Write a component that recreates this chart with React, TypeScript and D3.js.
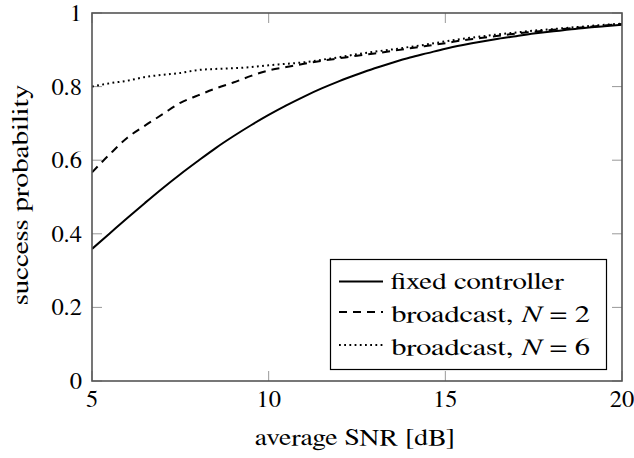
import React from "react";
import * as d3 from "d3";

const snrDb = [5, 5.5, 6, 6.5, 7, 7.5, 8, 8.5, 9, 9.5, 10, 10.5, 11, 11.5, 12, 12.5, 13, 13.5, 14, 14.5, 15, 15.5, 16, 16.5, 17, 17.5, 18, 18.5, 19, 19.5, 20];
const fixedController = [0.359, 0.401, 0.443, 0.484, 0.524, 0.562, 0.598, 0.633, 0.665, 0.695, 0.723, 0.749, 0.773, 0.795, 0.815, 0.833, 0.850, 0.865, 0.879, 0.891, 0.903, 0.913, 0.922, 0.930, 0.937, 0.944, 0.950, 0.955, 0.960, 0.964, 0.968];
const broadcastN2 = [0.567, 0.616, 0.661, 0.694, 0.725, 0.756, 0.776, 0.795, 0.811, 0.829, 0.844, 0.853, 0.862, 0.870, 0.877, 0.884, 0.890, 0.897, 0.904, 0.911, 0.918, 0.926, 0.932, 0.938, 0.944, 0.949, 0.954, 0.958, 0.962, 0.966, 0.970];
const broadcastN6 = [0.800, 0.809, 0.816, 0.826, 0.832, 0.837, 0.845, 0.848, 0.850, 0.853, 0.858, 0.862, 0.866, 0.873, 0.880, 0.888, 0.895, 0.901, 0.908, 0.915, 0.923, 0.930, 0.936, 0.942, 0.947, 0.952, 0.956, 0.960, 0.964, 0.968, 0.971];
const xTicks = [5, 10, 15, 20];
const yTicks = [0, 0.2, 0.4, 0.6, 0.8, 1];
const yTickLabels = ["0", "0.2", "0.4", "0.6", "0.8", "1"];
const legendLabels = ["fixed controller", "broadcast, ", "broadcast, "];
const legendSuffix = ["", "= 2", "= 6"];

const W = 634, H = 458;
const L = 92, R = 622, T = 13, B = 381;
const FS = 23;

export default function App() {
  const x = d3.scaleLinear().domain([5, 20]).range([L, R]);
  const y = d3.scaleLinear().domain([0, 1]).range([B, T]);
  const line = d3
    .line<[number, number]>()
    .x((d) => x(d[0]))
    .y((d) => y(d[1]))
    .curve(d3.curveMonotoneX);
  const series = [
    { vals: fixedController, dash: undefined as string | undefined },
    { vals: broadcastN2, dash: "8 6" },
    { vals: broadcastN6, dash: "1.8 3.4" },
  ];
  const legendRows = [281.5, 312, 345];
  const legendBase = [289, 322, 355];
  const legendLen = [173, 199, 199];
  const ts = { fontFamily: '"FreeSerif"', fontSize: FS };
  const tk = { fontFamily: '"FreeSerif"', fontSize: 24.5 };
  return (
    <svg width={W} height={H} style={{ position: "absolute", left: 0, top: 0 }}>
      <rect x={0} y={0} width={W} height={H} fill="#fff" />
      {xTicks.map((t) => (
        <g key={"xt" + t} stroke="#999" strokeWidth={1}>
          <line x1={x(t)} x2={x(t)} y1={B} y2={B - 10} />
          <line x1={x(t)} x2={x(t)} y1={T} y2={T + 10} />
        </g>
      ))}
      {yTicks.map((t) => (
        <g key={"yt" + t} stroke="#999" strokeWidth={1}>
          <line x1={L} x2={L + 10} y1={y(t)} y2={y(t)} />
          <line x1={R} x2={R - 10} y1={y(t)} y2={y(t)} />
        </g>
      ))}
      <defs>
        <clipPath id="plotclip">
          <rect x={L} y={T} width={R - L} height={B - T} />
        </clipPath>
      </defs>
      <g clipPath="url(#plotclip)">
        {series.map((s, i) => (
          <path
            key={i}
            d={line(snrDb.map((v, j) => [v, s.vals[j]] as [number, number])) || ""}
            fill="none"
            stroke="#000"
            strokeWidth={2}
            strokeDasharray={s.dash}
          />
        ))}
      </g>
      <rect x={L} y={T} width={R - L} height={B - T} fill="none" stroke="#555" strokeWidth={1.6} />
      {xTicks.map((t) => (
        <text key={"xl" + t} x={x(t)} y={407} textAnchor="middle" style={tk}>
          {t}
        </text>
      ))}
      {yTicks.map((t, i) => (
        <text key={"yl" + t} x={82} y={y(t) + 8} textAnchor="end" style={tk}>
          {yTickLabels[i]}
        </text>
      ))}
      <text x={255} y={445} textLength={200} lengthAdjust="spacingAndGlyphs" style={ts}>
        average SNR [dB]
      </text>
      <text transform={`translate(28,305) rotate(-90)`} textLength={220} lengthAdjust="spacingAndGlyphs" style={ts}>
        success probability
      </text>
      <rect x={330.5} y={259.5} width={276} height={110} fill="#fff" stroke="#000" strokeWidth={1.2} />
      {series.map((s, i) => (
        <g key={"lg" + i}>
          <line x1={339} x2={383} y1={legendRows[i]} y2={legendRows[i]} stroke="#000" strokeWidth={2} strokeDasharray={s.dash} />
          <text x={391} y={legendBase[i]} textLength={legendLen[i]} lengthAdjust="spacingAndGlyphs" style={ts}>
            {legendLabels[i]}
            {i > 0 && <tspan fontStyle="italic">N</tspan>}
            {i > 0 && <tspan dx={6}>{legendSuffix[i]}</tspan>}
          </text>
        </g>
      ))}
    </svg>
  );
}
